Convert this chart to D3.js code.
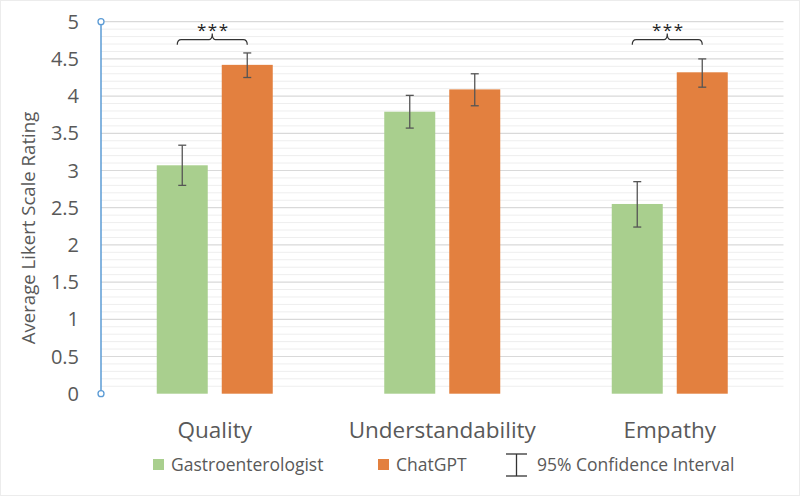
<!DOCTYPE html>
<html>
<head>
<meta charset="utf-8">
<script src="https://cdn.jsdelivr.net/npm/d3@7"></script>
<style>
  body { margin: 0; background: #fff; }
  text { font-family: "Open Sans", "Noto Sans", sans-serif; fill: #595959; }
</style>
</head>
<body>
<script>
// chart data
var categories = ["Quality", "Understandability", "Empathy"];
var series = ["Gastroenterologist", "ChatGPT"];
var gastroMean = [3.07, 3.79, 2.55];
var gastroLow  = [2.80, 3.57, 2.24];
var gastroHigh = [3.34, 4.01, 2.85];
var chatMean = [4.42, 4.09, 4.32];
var chatLow  = [4.25, 3.87, 4.12];
var chatHigh = [4.58, 4.30, 4.50];
var significance = ["***", "", "***"];
var yTicks = [0, 0.5, 1, 1.5, 2, 2.5, 3, 3.5, 4, 4.5, 5];

var colors = { "Gastroenterologist": "#a9cf8e", "ChatGPT": "#e3803f" };

var width = 800, height = 496;
var svg = d3.select("body").append("svg")
    .attr("width", width)
    .attr("height", height);

// light chart border
svg.append("rect")
    .attr("x", 0.5).attr("y", 0.5)
    .attr("width", width - 1).attr("height", height - 1)
    .attr("fill", "none").attr("stroke", "#ececec");

var plotLeft = 101, plotRight = 783.5, plotTop = 21.7, plotBottom = 393.7;

var y = d3.scaleLinear().domain([0, 5]).range([plotBottom, plotTop]);
var x0 = d3.scaleBand().domain(categories).range([plotLeft, plotRight]);
var x1 = d3.scaleBand().domain(series)
    .range([x0.bandwidth() / 2 - 58, x0.bandwidth() / 2 + 58])
    .paddingInner(0.2154);

// minor gridlines every 0.1
var minor = d3.range(1, 50).map(function(d) { return d / 10; })
    .filter(function(d) { return Math.abs(d * 2 - Math.round(d * 2)) > 1e-6; });
svg.append("g").selectAll("line").data(minor).enter().append("line")
    .attr("x1", plotLeft).attr("x2", plotRight)
    .attr("y1", function(d) { return y(d); })
    .attr("y2", function(d) { return y(d); })
    .attr("stroke", "#eeeeee").attr("stroke-width", 1);

// major gridlines
svg.append("g").selectAll("line").data(yTicks.slice(1)).enter().append("line")
    .attr("x1", plotLeft).attr("x2", plotRight)
    .attr("y1", function(d) { return y(d); })
    .attr("y2", function(d) { return y(d); })
    .attr("stroke", "#d9d9d9").attr("stroke-width", 1.2);

// build rows for bars
var rows = [];
categories.forEach(function(c, i) {
    rows.push({cat: c, s: "Gastroenterologist", v: gastroMean[i], lo: gastroLow[i], hi: gastroHigh[i]});
    rows.push({cat: c, s: "ChatGPT", v: chatMean[i], lo: chatLow[i], hi: chatHigh[i]});
});

function cx(d) { return x0(d.cat) + x1(d.s) + x1.bandwidth() / 2; }

svg.append("g").selectAll("rect").data(rows).enter().append("rect")
    .attr("x", function(d) { return x0(d.cat) + x1(d.s); })
    .attr("y", function(d) { return y(d.v); })
    .attr("width", x1.bandwidth())
    .attr("height", function(d) { return y(0) - y(d.v); })
    .attr("fill", function(d) { return colors[d.s]; });

// error bars
var eb = svg.append("g").attr("stroke", "#555").attr("stroke-width", 1.3);
rows.forEach(function(d) {
    var x = cx(d);
    eb.append("line").attr("x1", x).attr("x2", x).attr("y1", y(d.hi)).attr("y2", y(d.lo));
    eb.append("line").attr("x1", x - 4).attr("x2", x + 4).attr("y1", y(d.hi)).attr("y2", y(d.hi));
    eb.append("line").attr("x1", x - 4).attr("x2", x + 4).attr("y1", y(d.lo)).attr("y2", y(d.lo));
});

// y axis (blue, with end handles)
svg.append("line")
    .attr("x1", plotLeft).attr("x2", plotLeft).attr("y1", y(0)).attr("y2", y(5))
    .attr("stroke", "#5b9bd5").attr("stroke-width", 1.5);
svg.append("g").selectAll("circle").data([0, 5]).enter().append("circle")
    .attr("cx", plotLeft).attr("cy", function(d) { return y(d); }).attr("r", 3)
    .attr("fill", "#fff").attr("stroke", "#5b9bd5").attr("stroke-width", 1.3);

svg.append("g").selectAll("text").data(yTicks).enter().append("text")
    .attr("x", 79).attr("y", function(d) { return y(d); })
    .attr("dy", "0.35em")
    .attr("text-anchor", "end")
    .style("font-size", "20px")
    .text(function(d) { return d; });

svg.append("text")
    .attr("transform", "translate(35,228) rotate(-90)")
    .attr("text-anchor", "middle")
    .style("font-size", "18.6px")
    .text("Average Likert Scale Rating");

// category labels
svg.append("g").selectAll("text").data(categories).enter().append("text")
    .attr("x", function(d) { return x0(d) + x0.bandwidth() / 2; })
    .attr("y", 438)
    .attr("text-anchor", "middle")
    .style("font-size", "22.5px")
    .text(function(d) { return d; });

// significance brackets
categories.forEach(function(c, i) {
    if (!significance[i]) return;
    var xa = x0(c) + x1("Gastroenterologist") + x1.bandwidth() / 2 - 5;
    var xb = x0(c) + x1("ChatGPT") + x1.bandwidth() / 2;
    var xm = (xa + xb) / 2;
    var yh = y(4.76), ye = y(4.69), yt = y(4.84);
    var p = d3.path();
    p.moveTo(xa, ye);
    p.quadraticCurveTo(xa, yh, xa + 4, yh);
    p.lineTo(xm - 3, yh);
    p.quadraticCurveTo(xm, yh, xm, yt);
    p.quadraticCurveTo(xm, yh, xm + 3, yh);
    p.lineTo(xb - 4, yh);
    p.quadraticCurveTo(xb, yh, xb, ye);
    svg.append("path").attr("d", p.toString())
        .attr("fill", "none").attr("stroke", "#333").attr("stroke-width", 1.2);
    svg.append("text")
        .attr("x", xm + 1).attr("y", y(4.83) + 2)
        .attr("text-anchor", "middle")
        .style("font-size", "17px").style("fill", "#222")
        .style("letter-spacing", "1.5px")
        .text(significance[i]);
});

// legend
var lg = svg.append("g").style("font-size", "17.5px");
lg.append("rect").attr("x", 153).attr("y", 459).attr("width", 11).attr("height", 11)
    .attr("fill", colors["Gastroenterologist"]);
lg.append("text").attr("x", 171).attr("y", 465).attr("dy", "0.35em").text("Gastroenterologist");
lg.append("rect").attr("x", 378).attr("y", 459).attr("width", 11).attr("height", 11)
    .attr("fill", colors["ChatGPT"]);
lg.append("text").attr("x", 396).attr("y", 465).attr("dy", "0.35em").text("ChatGPT");
var icon = lg.append("g").attr("stroke", "#333").attr("stroke-width", 1.3);
icon.append("line").attr("x1", 516.5).attr("x2", 516.5).attr("y1", 454).attr("y2", 476);
icon.append("line").attr("x1", 506).attr("x2", 527).attr("y1", 454).attr("y2", 454);
icon.append("line").attr("x1", 506).attr("x2", 527).attr("y1", 476).attr("y2", 476);
lg.append("text").attr("x", 537).attr("y", 465).attr("dy", "0.35em").text("95% Confidence Interval");
</script>
</body>
</html>
